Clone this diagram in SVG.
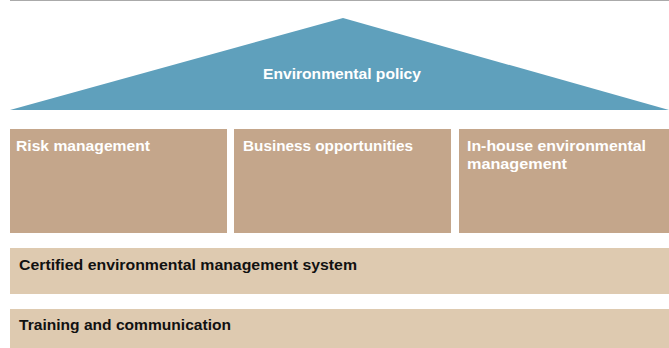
<svg xmlns="http://www.w3.org/2000/svg" width="669" height="348" viewBox="0 0 669 348">
<style>
.lbl{font-family:"Liberation Sans",Arial,sans-serif;font-weight:bold;font-size:15.5px}
.w{fill:#ffffff}
.k{fill:#111111}
.pillar{fill:#c4a68b}
.band{fill:#decab0}
</style>
<rect width="669" height="348" fill="#ffffff"/>
<line x1="10" y1="0.5" x2="669" y2="0.5" stroke="#aaaaaa" stroke-width="1"/>
<g id="roof">
<polygon points="10,110 343,18 669,110" fill="#5fa0bc"/>
<text class="lbl w" x="263" y="79" textLength="158" lengthAdjust="spacingAndGlyphs">Environmental policy</text>
</g>
<g id="risk">
<rect class="pillar" x="10" y="129" width="217" height="104"/>
<text class="lbl w" x="16" y="151" textLength="134" lengthAdjust="spacingAndGlyphs">Risk management</text>
</g>
<g id="business">
<rect class="pillar" x="234" y="129" width="217" height="104"/>
<text class="lbl w" x="243" y="151" textLength="170" lengthAdjust="spacingAndGlyphs">Business opportunities</text>
</g>
<g id="inhouse">
<rect class="pillar" x="459" y="129" width="210" height="104"/>
<text class="lbl w" x="467" y="151" textLength="179" lengthAdjust="spacingAndGlyphs">In-house environmental</text>
<text class="lbl w" x="467" y="169" textLength="100" lengthAdjust="spacingAndGlyphs">management</text>
</g>
<g id="certified">
<rect class="band" x="10" y="248" width="659" height="46"/>
<text class="lbl k" x="19" y="270" textLength="338" lengthAdjust="spacingAndGlyphs">Certified environmental management system</text>
</g>
<g id="training">
<rect class="band" x="10" y="309" width="659" height="39"/>
<text class="lbl k" x="19" y="330" textLength="212" lengthAdjust="spacingAndGlyphs">Training and communication</text>
</g>
<g id="connectors"/>
</svg>
